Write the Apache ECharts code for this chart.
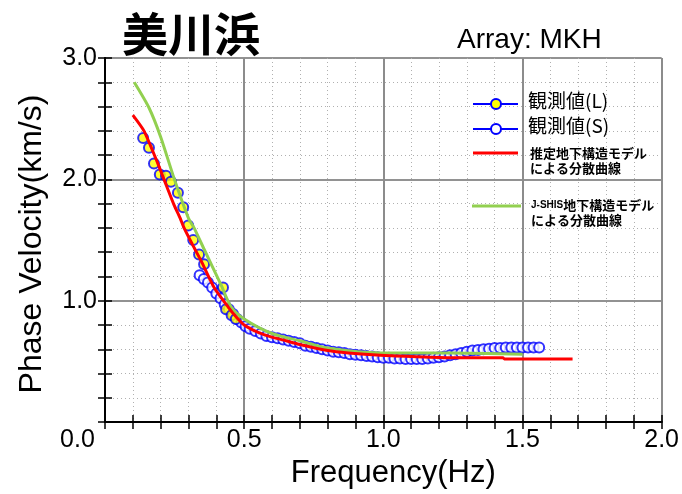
<!DOCTYPE html>
<html>
<head>
<meta charset="utf-8">
<script src="https://cdn.jsdelivr.net/npm/echarts@6/dist/echarts.min.js"></script>
<style>
  html, body { margin: 0; padding: 0; background: #fff; }
  #main { width: 682px; height: 494px; }
</style>
</head>
<body>
<div id="main"></div>
<script>
// 観測値(L) 黄色の点
var fL = [0.137, 0.158, 0.176, 0.197, 0.219, 0.237, 0.262, 0.281, 0.299, 0.317, 0.338, 0.356, 0.424, 0.435, 0.455, 0.47];
var vL = [2.34, 2.26, 2.13, 2.04, 2.03, 1.98, 1.89, 1.77, 1.62, 1.50, 1.38, 1.30, 1.11, 0.93, 0.88, 0.85];

// 観測値(S) 白抜きの点
var fS = [0.34, 0.355, 0.37, 0.385, 0.40, 0.415, 0.43, 0.445, 0.46, 0.475, 0.49, 0.505, 0.52, 0.54, 0.56, 0.58, 0.60,
          0.62, 0.64, 0.66, 0.68, 0.70, 0.72, 0.74, 0.76, 0.78, 0.80, 0.82, 0.84, 0.86, 0.88, 0.90, 0.92, 0.94,
          0.96, 0.98, 1.00, 1.02, 1.04, 1.06, 1.08, 1.10, 1.12, 1.14, 1.16, 1.18, 1.20, 1.22, 1.24, 1.26, 1.28,
          1.30, 1.32, 1.34, 1.36, 1.38, 1.40, 1.42, 1.44, 1.46, 1.48, 1.50, 1.52, 1.54, 1.56];
var vS = [1.21, 1.18, 1.15, 1.11, 1.06, 1.02, 0.97, 0.93, 0.89, 0.85, 0.82, 0.79, 0.77, 0.75, 0.73, 0.71, 0.70,
          0.69, 0.68, 0.67, 0.66, 0.65, 0.63, 0.62, 0.61, 0.60, 0.59, 0.58, 0.575, 0.57, 0.56, 0.555, 0.55, 0.545,
          0.54, 0.535, 0.53, 0.53, 0.525, 0.525, 0.52, 0.52, 0.52, 0.52, 0.525, 0.53, 0.535, 0.54, 0.55, 0.56, 0.57,
          0.58, 0.59, 0.595, 0.60, 0.605, 0.61, 0.61, 0.615, 0.615, 0.615, 0.615, 0.615, 0.615, 0.615];

// 推定地下構造モデルによる分散曲線
var fRed = [0.10, 0.14, 0.19, 0.212, 0.248, 0.27, 0.284, 0.315, 0.345, 0.392, 0.442, 0.47, 0.50, 0.55, 0.60,
            0.65, 0.70, 0.80, 0.874, 0.99, 1.10, 1.245, 1.43, 1.435, 1.68];
var vRed = [2.53, 2.40, 2.13, 2.00, 1.79, 1.68, 1.60, 1.46, 1.33, 1.11, 0.95, 0.87, 0.80, 0.74, 0.70,
            0.67, 0.64, 0.59, 0.57, 0.55, 0.54, 0.53, 0.53, 0.52, 0.52];

// J-SHIS地下構造モデルによる分散曲線
var fGreen = [0.105, 0.158, 0.2, 0.248, 0.30, 0.32, 0.357, 0.417, 0.453, 0.50, 0.60, 0.70, 0.80, 0.99, 1.245, 1.50];
var vGreen = [2.80, 2.59, 2.35, 2.01, 1.68, 1.60, 1.42, 1.13, 0.95, 0.85, 0.73, 0.67, 0.61, 0.57, 0.57, 0.56];

function zip(xs, ys) {
  var out = [];
  for (var i = 0; i < xs.length; i++) out.push([xs[i], ys[i]]);
  return out;
}

var chart = echarts.init(document.getElementById('main'));
var font = 'Liberation Sans, Arial, sans-serif';
var cjk = 'Noto Sans CJK JP, sans-serif';

var opt = {
  backgroundColor: '#fff',
  animation: false,
  title: [
    { text: '美川浜', left: 117, top: 6,
      textStyle: { fontSize: 46, fontWeight: 'bold', color: '#000', fontFamily: cjk } },
    { text: 'Array: MKH', left: 452, top: 21,
      textStyle: { fontSize: 28, fontWeight: 'normal', color: '#000', fontFamily: font } }
  ],
  grid: { left: 105, right: 20, top: 58, bottom: 67 },
  xAxis: [
    {
      type: 'value', min: 0, max: 2, interval: 0.5, position: 'bottom',
      name: 'Frequency(Hz)', nameLocation: 'middle', nameGap: 32,
      nameTextStyle: { fontSize: 31, color: '#000', fontFamily: font, padding: [0, 0, 0, 20] },
      axisLine: { show: true, lineStyle: { color: '#000', width: 2 } },
      axisTick: { show: true, inside: true, length: 7, lineStyle: { color: '#000', width: 1.5 } },
      minorTick: { show: true, splitNumber: 5, length: 7, lineStyle: { color: '#000', width: 1.5 } },
      splitLine: { show: true, lineStyle: { color: '#8c8c8c', width: 2 } },
      minorSplitLine: { show: true, lineStyle: { color: '#b0b0b0', width: 1, type: [1, 3] } },
      axisLabel: {
        margin: 6, fontSize: 25, color: '#000', fontFamily: font,
        formatter: function (v) { return v === 0 ? '{a|0.0}' : v.toFixed(1); },
        rich: { a: { fontSize: 25, color: '#000', fontFamily: font, padding: [0, 55, 0, 0] } }
      }
    },
    {
      type: 'value', min: 0, max: 2, interval: 0.5, position: 'top',
      axisLine: { show: true, lineStyle: { color: '#000', width: 2 } },
      axisTick: { show: true, inside: true, length: 7, lineStyle: { color: '#000', width: 1.5 } },
      minorTick: { show: true, splitNumber: 5, length: 7, lineStyle: { color: '#000', width: 1.5 } },
      splitLine: { show: false },
      axisLabel: { show: false }
    }
  ],
  yAxis: [
    {
      type: 'value', min: 0, max: 3, interval: 1, position: 'left',
      name: 'Phase Velocity(km/s)', nameLocation: 'middle', nameGap: 57,
      nameTextStyle: { fontSize: 32, color: '#000', fontFamily: font, padding: [0, 8, 0, 0] },
      axisLine: { show: true, lineStyle: { color: '#000', width: 2 } },
      axisTick: { show: true, inside: true, length: 7, lineStyle: { color: '#000', width: 1.5 } },
      minorTick: { show: true, splitNumber: 5, length: 7, lineStyle: { color: '#000', width: 1.5 } },
      splitLine: { show: true, lineStyle: { color: '#6e6e6e', width: 1.5 } },
      minorSplitLine: { show: true, lineStyle: { color: '#b0b0b0', width: 1, type: [1, 3] } },
      axisLabel: {
        margin: 8, fontSize: 25, color: '#000', fontFamily: font,
        formatter: function (v) { return v === 0 ? '' : v.toFixed(1); }
      }
    },
    {
      type: 'value', min: 0, max: 3, interval: 1, position: 'right',
      axisLine: { show: true, lineStyle: { color: '#000', width: 2 } },
      axisTick: { show: true, inside: true, length: 7, lineStyle: { color: '#000', width: 1.5 } },
      minorTick: { show: true, splitNumber: 5, length: 7, lineStyle: { color: '#000', width: 1.5 } },
      splitLine: { show: false },
      axisLabel: { show: false }
    }
  ],
  series: [
    {
      name: '観測値(S)', type: 'scatter', data: zip(fS, vS), z: 2,
      symbol: 'circle', symbolSize: 10,
      itemStyle: { color: '#fff', borderColor: '#0000ff', borderWidth: 2 }
    },
    {
      name: '観測値(L)', type: 'scatter', data: zip(fL, vL), z: 3,
      symbol: 'circle', symbolSize: 10,
      itemStyle: { color: '#ffff00', borderColor: '#0000ff', borderWidth: 2 }
    },
    {
      name: 'J-SHIS', type: 'line', data: zip(fGreen, vGreen), z: 4,
      showSymbol: false, smooth: 0.25,
      lineStyle: { color: '#92d050', width: 3 }
    },
    {
      name: '推定', type: 'line', data: zip(fRed, vRed), z: 5,
      showSymbol: false, smooth: 0.2,
      lineStyle: { color: '#ff0000', width: 3 }
    }
  ],
  graphic: [
    // 凡例
    { type: 'line', shape: { x1: 473, y1: 104, x2: 518, y2: 104 }, style: { stroke: '#0000ff', lineWidth: 2 }, z: 10 },
    { type: 'circle', shape: { cx: 496, cy: 104, r: 5 }, style: { fill: '#ffff00', stroke: '#0000ff', lineWidth: 2 }, z: 11 },
    { type: 'text', left: 528, top: 91, z: 11,
      style: { text: '観測値(L)', fontSize: 19, fill: '#000', fontFamily: cjk } },
    { type: 'line', shape: { x1: 473, y1: 129, x2: 518, y2: 129 }, style: { stroke: '#0000ff', lineWidth: 2 }, z: 10 },
    { type: 'circle', shape: { cx: 496, cy: 129, r: 5 }, style: { fill: '#fff', stroke: '#0000ff', lineWidth: 2 }, z: 11 },
    { type: 'text', left: 528, top: 116, z: 11,
      style: { text: '観測値(S)', fontSize: 19, fill: '#000', fontFamily: cjk } },
    { type: 'line', shape: { x1: 473, y1: 153, x2: 518, y2: 153 }, style: { stroke: '#ff0000', lineWidth: 3 }, z: 10 },
    { type: 'text', left: 530, top: 146, z: 11,
      style: { text: '推定地下構造モデル\nによる分散曲線', fontSize: 13, fontWeight: 'bold', lineHeight: 15,
               fill: '#000', fontFamily: cjk } },
    { type: 'line', shape: { x1: 472, y1: 206, x2: 521, y2: 206 }, style: { stroke: '#92d050', lineWidth: 3 }, z: 10 },
    { type: 'text', left: 531, top: 199, z: 11,
      style: { text: '{s|J-SHIS}{n|地下構造モデル}\n{n|による分散曲線}',
               rich: {
                 s: { fontSize: 10, fontWeight: 'bold', fill: '#000', fontFamily: font, lineHeight: 15 },
                 n: { fontSize: 13, fontWeight: 'bold', fill: '#000', fontFamily: cjk, lineHeight: 15 }
               } } }
  ]
};
chart.setOption(opt);
</script>
</body>
</html>
